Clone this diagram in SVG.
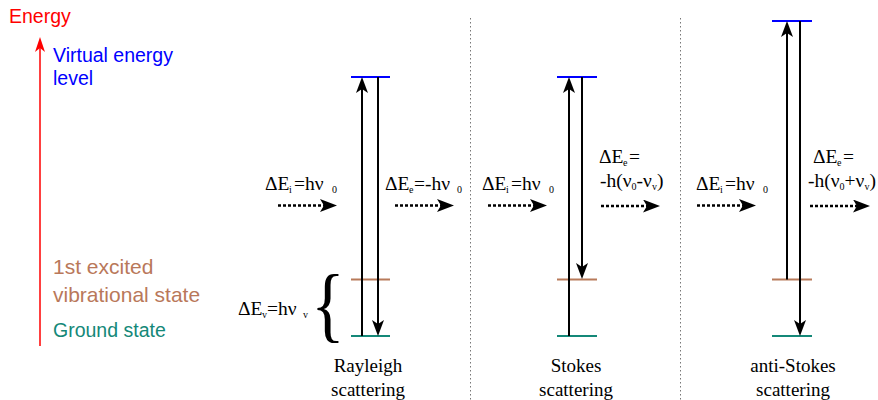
<svg xmlns="http://www.w3.org/2000/svg" width="878" height="400" viewBox="0 0 878 400">
<style>
.sans{font-family:"Liberation Sans",Arial,sans-serif;font-size:19.5px}
.big{font-size:21px}
.serif{font-family:"Liberation Serif","Times New Roman",serif;font-size:19.5px;fill:#000}
.sub{font-size:10px}
.cap{font-family:"Liberation Serif","Times New Roman",serif;font-size:19px;fill:#000;text-anchor:middle}
.virt{stroke:#0000ff;stroke-width:2}
.exc{stroke:#b87a5a;stroke-width:2}
.gnd{stroke:#148878;stroke-width:2}
.tr{stroke:#000;stroke-width:2;fill:none}
.photon{stroke:#000;stroke-width:2.5;stroke-dasharray:3 2;fill:none}
.sep{stroke:#777;stroke-width:1;stroke-dasharray:1.5 2.5;fill:none}
</style>
<defs>
<marker id="ah" markerUnits="userSpaceOnUse" viewBox="0 0 16 12" markerWidth="16" markerHeight="12" refX="12" refY="6" orient="auto">
<path d="M0,0 L16,6 L0,12 L4,6 z" fill="#000"/>
</marker>
<marker id="ph" markerUnits="userSpaceOnUse" viewBox="0 0 17 13" markerWidth="17" markerHeight="13" refX="10" refY="6.5" orient="auto">
<path d="M0,0 L17,6.5 L0,13 L4,6.5 z" fill="#000"/>
</marker>
<marker id="ra" markerUnits="userSpaceOnUse" viewBox="0 0 15 10" markerWidth="15" markerHeight="10" refX="11" refY="5" orient="auto">
<path d="M0,0 L15,5 L0,10 L4,5 z" fill="#ff0000"/>
</marker>
</defs>

<g id="energy-axis">
<text class="sans" x="9" y="23" fill="#ff0000">Energy</text>
<line x1="40" y1="346" x2="40" y2="41" stroke="#ff0000" stroke-width="1.5" marker-end="url(#ra)"/>
</g>

<g id="legend">
<text class="sans" x="53" y="62" fill="#0000ff">Virtual energy</text>
<text class="sans" x="53" y="85" fill="#0000ff">level</text>
<text class="sans big" x="53" y="274" fill="#b9785a">1st excited</text>
<text class="sans big" x="53" y="302" fill="#b9785a">vibrational state</text>
<text class="sans" x="53" y="337" fill="#148878">Ground state</text>
</g>

<g id="separators">
<line class="sep" x1="470.5" y1="18" x2="470.5" y2="400"/>
<line class="sep" x1="680.5" y1="18" x2="680.5" y2="400"/>
</g>

<g id="rayleigh">
<line class="virt" x1="351" y1="77" x2="390" y2="77"/>
<line class="exc" x1="351" y1="279.5" x2="390" y2="279.5"/>
<line class="gnd" x1="351" y1="336" x2="390" y2="336"/>
<text class="serif" x="238" y="315">ΔE<tspan class="sub" x="262" dy="3">v</tspan><tspan x="267" dy="-3">=hν</tspan><tspan class="sub" x="303" dy="3">v</tspan></text>
<text class="serif" transform="translate(311,332) scale(0.85,1)" x="0" y="0" style="font-size:83px">{</text>
<text class="cap" x="368" y="372">Rayleigh</text>
<text class="cap" x="368" y="396">scattering</text>
</g>

<g id="stokes">
<line class="virt" x1="557" y1="77" x2="597" y2="77"/>
<line class="exc" x1="557" y1="279.5" x2="597" y2="279.5"/>
<line class="gnd" x1="557" y1="336" x2="597" y2="336"/>
<text class="cap" x="576" y="372">Stokes</text>
<text class="cap" x="576" y="396">scattering</text>
</g>

<g id="anti-stokes">
<line class="virt" x1="772" y1="21" x2="812" y2="21"/>
<line class="exc" x1="772" y1="279.5" x2="812" y2="279.5"/>
<line class="gnd" x1="772" y1="336" x2="812" y2="336"/>
<text class="cap" x="793" y="372">anti-Stokes</text>
<text class="cap" x="793" y="396">scattering</text>
</g>

<g id="photon-labels">
<text class="serif" x="265" y="190">ΔE<tspan class="sub" x="289" dy="3">i</tspan><tspan x="294" dy="-3">=hν</tspan><tspan class="sub" x="332" dy="3">0</tspan></text>
<text class="serif" x="385" y="190">ΔE<tspan class="sub" x="409" dy="3">e</tspan><tspan x="414" dy="-3">=-hν</tspan><tspan class="sub" x="457" dy="3">0</tspan></text>
<text class="serif" x="482" y="190">ΔE<tspan class="sub" x="506" dy="3">i</tspan><tspan x="511" dy="-3">=hν</tspan><tspan class="sub" x="549" dy="3">0</tspan></text>
<text class="serif" x="599" y="163">ΔE<tspan class="sub" x="623" dy="3">e</tspan><tspan x="629" dy="-3">=</tspan></text>
<text class="serif" x="600" y="187">-h(ν<tspan class="sub" dy="3">0</tspan><tspan dy="-3">-ν</tspan><tspan class="sub" dy="3">v</tspan><tspan dy="-3">)</tspan></text>
<text class="serif" x="696" y="190">ΔE<tspan class="sub" x="720" dy="3">i</tspan><tspan x="725" dy="-3">=hν</tspan><tspan class="sub" x="763" dy="3">0</tspan></text>
<text class="serif" x="813" y="163">ΔE<tspan class="sub" x="837" dy="3">e</tspan><tspan x="843" dy="-3">=</tspan></text>
<text class="serif" x="808" y="187">-h(ν<tspan class="sub" dy="3">0</tspan><tspan dy="-3">+ν</tspan><tspan class="sub" dy="3">v</tspan><tspan dy="-3">)</tspan></text>
</g>

<g id="connectors">
<line class="tr" x1="362" y1="336" x2="362" y2="81" marker-end="url(#ah)"/>
<line class="tr" x1="378" y1="77" x2="378" y2="332" marker-end="url(#ah)"/>
<line class="tr" x1="569" y1="336" x2="569" y2="81" marker-end="url(#ah)"/>
<line class="tr" x1="582" y1="77" x2="582" y2="275" marker-end="url(#ah)"/>
<line class="tr" x1="787" y1="279.5" x2="787" y2="25" marker-end="url(#ah)"/>
<line class="tr" x1="800" y1="21" x2="800" y2="332" marker-end="url(#ah)"/>
<line class="photon" x1="278" y1="205.5" x2="330" y2="205.5" marker-end="url(#ph)"/>
<line class="photon" x1="395" y1="205.5" x2="447" y2="205.5" marker-end="url(#ph)"/>
<line class="photon" x1="488" y1="205.5" x2="540" y2="205.5" marker-end="url(#ph)"/>
<line class="photon" x1="601" y1="206" x2="653" y2="206" marker-end="url(#ph)"/>
<line class="photon" x1="697" y1="205.5" x2="749" y2="205.5" marker-end="url(#ph)"/>
<line class="photon" x1="810" y1="206" x2="863" y2="206" marker-end="url(#ph)"/>
</g>
</svg>
